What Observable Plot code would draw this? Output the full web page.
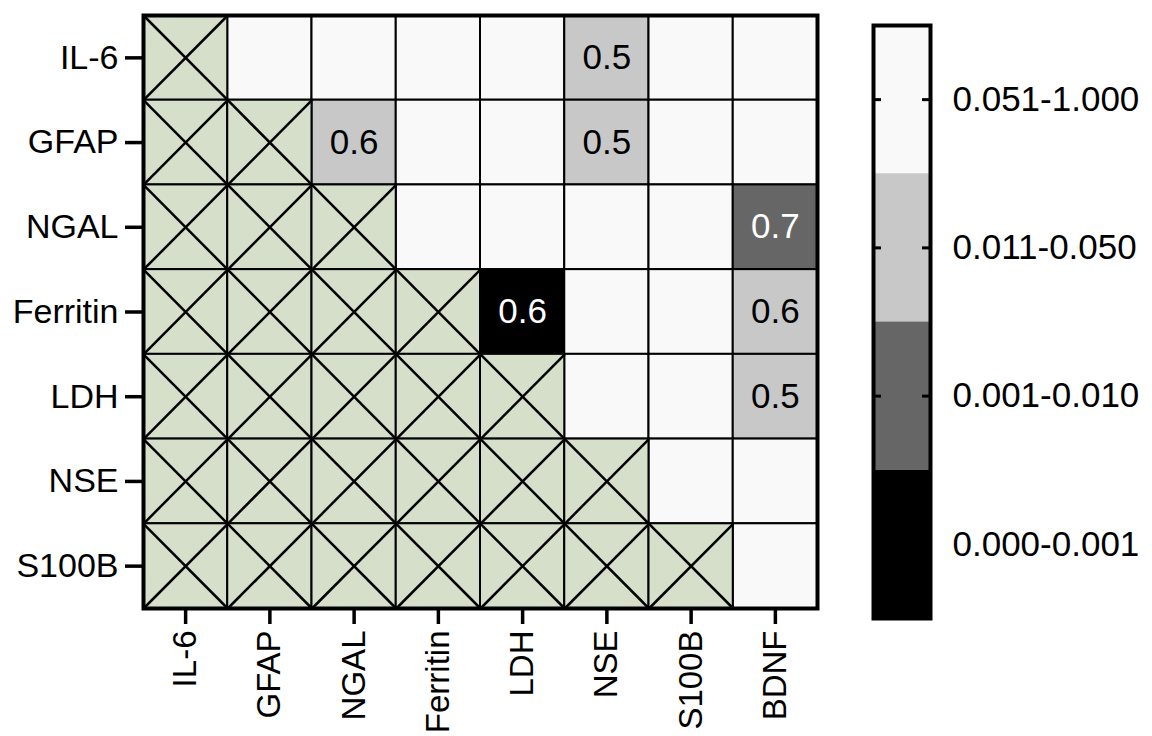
<!DOCTYPE html>
<html><head><meta charset="utf-8">
<script src="https://cdn.jsdelivr.net/npm/d3@7"></script>
<script src="https://cdn.jsdelivr.net/npm/@observablehq/plot@0.6"></script>
<style>
body{margin:0;background:#fff;}
#wrap{position:relative;width:1152px;height:736px;font-family:"Liberation Sans",Arial,sans-serif;background:#fff;overflow:hidden;}
#main{position:absolute;left:0;top:0;}
#legend{position:absolute;left:850px;top:0;}
</style></head><body><div id="wrap"><div id="main"></div><div id="legend"></div></div>
<script>
// Row and column markers
const rows = ["IL-6","GFAP","NGAL","Ferritin","LDH","NSE","S100B"];
const cols = ["IL-6","GFAP","NGAL","Ferritin","LDH","NSE","S100B","BDNF"];
// p-value classes (index into bandLabels); null = excluded (crossed) cell
const pClass = [
  [null,0,0,0,0,1,0,0],
  [null,null,1,0,0,1,0,0],
  [null,null,null,0,0,0,0,2],
  [null,null,null,null,3,0,0,1],
  [null,null,null,null,null,0,0,1],
  [null,null,null,null,null,null,0,0],
  [null,null,null,null,null,null,null,0]
];
// correlation coefficients shown in significant cells
const rValues = [
  [null,null,null,null,null,0.5,null,null],
  [null,null,0.6,null,null,0.5,null,null],
  [null,null,null,null,null,null,null,0.7],
  [null,null,null,null,0.6,null,null,0.6],
  [null,null,null,null,null,null,null,0.5],
  [null,null,null,null,null,null,null,null],
  [null,null,null,null,null,null,null,null]
];
// legend bands (p-value ranges)
const bandLabels = ["0.051-1.000","0.011-0.050","0.001-0.010","0.000-0.001"];

const bandColors = ["#f9f9f9","#c8c8c8","#666666","#000000"];
const font = "Liberation Sans, Arial, sans-serif";

const cells = [];
rows.forEach((rn, r) => cols.forEach((cn, c) => {
  cells.push({row: r, col: c, cls: pClass[r][c], v: rValues[r][c]});
}));
const open = cells.filter(d => d.cls !== null);
const crossed = cells.filter(d => d.cls === null);
const labelled = cells.filter(d => d.v !== null);

const main = Plot.plot({
  width: 850, height: 736,
  marginLeft: 143, marginRight: 33, marginTop: 15, marginBottom: 128,
  style: {fontFamily: font, fontSize: "34px", color: "#000", background: "#fff", overflow: "visible"},
  x: {domain: [0, 8], axis: null},
  y: {domain: [0, 7], reverse: true, axis: null},
  color: {type: "ordinal", domain: bandLabels, range: bandColors},
  marks: [
    Plot.rect(open, {x1: d => d.col, x2: d => d.col + 1, y1: d => d.row, y2: d => d.row + 1,
      fill: d => bandLabels[d.cls], stroke: "#000", strokeWidth: 2}),
    Plot.rect(crossed, {x1: d => d.col, x2: d => d.col + 1, y1: d => d.row, y2: d => d.row + 1,
      fill: "#d5dfca", stroke: "#000", strokeWidth: 2}),
    Plot.link(crossed, {x1: d => d.col, y1: d => d.row, x2: d => d.col + 1, y2: d => d.row + 1,
      stroke: "#000", strokeWidth: 2.5}),
    Plot.link(crossed, {x1: d => d.col, y1: d => d.row + 1, x2: d => d.col + 1, y2: d => d.row,
      stroke: "#000", strokeWidth: 2.5}),
    Plot.text(labelled, {x: d => d.col + 0.5, y: d => d.row + 0.5, text: d => d.v.toFixed(1),
      fill: d => d.cls >= 2 ? "#fff" : "#000", fontSize: 35}),
    Plot.axisX(d3.range(cols.length).map(i => i + 0.5), {anchor: "bottom",
      tickFormat: t => cols[Math.floor(t)], tickRotate: -90, tickSize: 16, tickPadding: 6,
      strokeWidth: 3.5, fontSize: 33, label: null}),
    Plot.axisY(d3.range(rows.length).map(i => i + 0.5), {anchor: "left",
      tickFormat: t => rows[Math.floor(t)], tickSize: 18, tickPadding: 7,
      strokeWidth: 3.5, fontSize: 34, label: null}),
    Plot.frame({stroke: "#000", strokeWidth: 4})
  ]
});
document.getElementById("main").appendChild(main);

const legend = Plot.plot({
  width: 302, height: 736,
  marginLeft: 23, marginRight: 222, marginTop: 25, marginBottom: 118,
  style: {fontFamily: font, fontSize: "35px", color: "#000", background: "transparent"},
  x: {domain: [0, 1], axis: null},
  y: {domain: [0, bandLabels.length], reverse: true, axis: null},
  color: {type: "ordinal", domain: bandLabels, range: bandColors},
  marks: [
    Plot.rect(bandLabels, {x1: 0, x2: 1, y1: (d, i) => i, y2: (d, i) => i + 1, fill: d => d}),
    Plot.ruleY(bandLabels, {y: (d, i) => i + 0.5, x1: 0, x2: 0.14, stroke: "#000", strokeWidth: 3}),
    Plot.ruleY(bandLabels, {y: (d, i) => i + 0.5, x1: 0.86, x2: 1, stroke: "#000", strokeWidth: 3}),
    Plot.axisY(d3.range(bandLabels.length).map(i => i + 0.5), {anchor: "right",
      tickFormat: t => bandLabels[Math.floor(t)], tickSize: 0, tickPadding: 22, fontSize: 35, label: null}),
    Plot.frame({stroke: "#000", strokeWidth: 4})
  ]
});
document.getElementById("legend").appendChild(legend);
</script>
</body></html>
